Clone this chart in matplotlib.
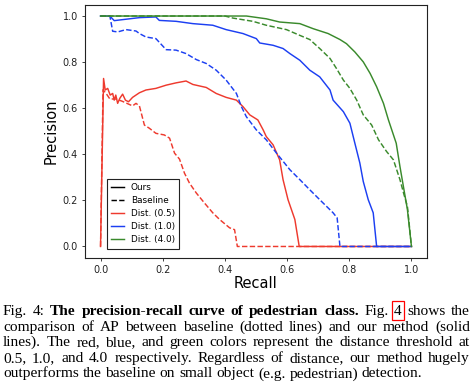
import matplotlib
matplotlib.use("Agg")
import matplotlib.pyplot as plt
from matplotlib.lines import Line2D
from matplotlib.patches import Rectangle

# ---------------- data ----------------
ours_05_r = [0.0, 0.0097, 0.015, 0.023, 0.031, 0.039, 0.044, 0.049, 0.055, 0.062, 0.071, 0.080, 0.090, 0.103,
             0.125, 0.146, 0.178, 0.211, 0.243, 0.275, 0.297, 0.340, 0.372, 0.404, 0.437, 0.458, 0.480, 0.506,
             0.523, 0.533, 0.555, 0.576, 0.587, 0.603, 0.625, 0.639, 1.0]
ours_05_p = [0.0, 0.729, 0.679, 0.686, 0.657, 0.664, 0.635, 0.657, 0.621, 0.643, 0.661, 0.635, 0.628, 0.647,
             0.667, 0.679, 0.686, 0.700, 0.710, 0.718, 0.703, 0.690, 0.664, 0.647, 0.635, 0.607, 0.571, 0.549,
             0.506, 0.477, 0.441, 0.376, 0.290, 0.203, 0.117, 0.0, 0.0]
base_05_r = [0.0, 0.008, 0.020, 0.030, 0.050, 0.070, 0.103, 0.114, 0.125, 0.141, 0.157, 0.178, 0.205, 0.222,
             0.238, 0.254, 0.270, 0.286, 0.308, 0.334, 0.361, 0.383, 0.415, 0.431, 0.440, 1.0]
base_05_p = [0.0, 0.68, 0.66, 0.64, 0.64, 0.63, 0.610, 0.621, 0.610, 0.527, 0.513, 0.491, 0.484, 0.470,
             0.405, 0.379, 0.318, 0.275, 0.232, 0.189, 0.146, 0.117, 0.081, 0.073, 0.0, 0.0]

ours_10_r = [0.0, 0.030, 0.044, 0.125, 0.178, 0.189, 0.243, 0.297, 0.361, 0.404, 0.458, 0.501, 0.512, 0.555,
             0.587, 0.609, 0.641, 0.673, 0.705, 0.738, 0.748, 0.781, 0.802, 0.818, 0.834, 0.845, 0.861, 0.877,
             0.888, 1.0]
ours_10_p = [1.0, 1.0, 0.980, 0.993, 0.996, 0.981, 0.977, 0.967, 0.960, 0.941, 0.924, 0.902, 0.883, 0.873,
             0.859, 0.837, 0.808, 0.765, 0.736, 0.679, 0.635, 0.585, 0.535, 0.448, 0.362, 0.282, 0.203, 0.146,
             0.0, 0.0]
base_10_r = [0.0, 0.030, 0.039, 0.055, 0.082, 0.114, 0.125, 0.146, 0.178, 0.211, 0.243, 0.275, 0.308, 0.340,
             0.372, 0.404, 0.437, 0.453, 0.469, 0.501, 0.533, 0.566, 0.609, 0.641, 0.673, 0.705, 0.748, 0.761,
             0.770, 1.0]
base_10_p = [1.0, 1.0, 0.934, 0.931, 0.941, 0.935, 0.924, 0.909, 0.902, 0.854, 0.852, 0.837, 0.811, 0.794,
             0.765, 0.722, 0.664, 0.607, 0.563, 0.506, 0.463, 0.405, 0.333, 0.290, 0.246, 0.203, 0.146, 0.124,
             0.0, 0.0]

ours_40_r = [0.0, 0.469, 0.533, 0.576, 0.641, 0.684, 0.732, 0.770, 0.791, 0.818, 0.845, 0.867, 0.888, 0.910,
             0.926, 0.951, 0.963, 0.974, 0.987, 1.0]
ours_40_p = [1.0, 1.0, 0.988, 0.974, 0.967, 0.945, 0.924, 0.898, 0.880, 0.844, 0.801, 0.751, 0.693, 0.621,
             0.549, 0.448, 0.347, 0.261, 0.160, 0.0]
base_40_r = [0.0, 0.400, 0.426, 0.490, 0.533, 0.598, 0.641, 0.673, 0.705, 0.738, 0.759, 0.781, 0.802, 0.824,
             0.845, 0.872, 0.894, 0.920, 0.942, 0.963, 0.976, 0.987, 1.0]
base_40_p = [1.0, 1.0, 0.991, 0.977, 0.960, 0.941, 0.916, 0.898, 0.859, 0.816, 0.772, 0.722, 0.686, 0.635,
             0.571, 0.527, 0.463, 0.412, 0.376, 0.290, 0.225, 0.174, 0.0]

x_ticks = [0.0, 0.2, 0.4, 0.6, 0.8, 1.0]
y_ticks = [0.0, 0.2, 0.4, 0.6, 0.8, 1.0]
legend_labels = ["Ours", "Baseline", "Dist. (0.5)", "Dist. (1.0)", "Dist. (4.0)"]

caption_lines = [
    [("Fig.", "normal"), ("4:", "normal"), ("The", "bold"), ("precision-recall", "bold"), ("curve", "bold"),
     ("of", "bold"), ("pedestrian", "bold"), ("class.", "bold"), ("Fig.", "normal"), ("4", "box"),
     ("shows", "normal"), ("the", "normal")],
    [(w, "normal") for w in "comparison of AP between baseline (dotted lines) and our method (solid".split()],
    [(w, "normal") for w in "lines). The red, blue, and green colors represent the distance threshold at".split()],
    [(w, "normal") for w in "0.5, 1.0, and 4.0 respectively. Regardless of distance, our method hugely".split()],
    [(w, "normal") for w in "outperforms the baseline on small object (e.g. pedestrian) detection.".split()],
]

# ---------------- figure ----------------
W, H = 477, 392
fig = plt.figure(figsize=(W / 100, H / 100), dpi=100)
ax = fig.add_axes([85 / W, 1 - 258 / H, 342 / W, 253.5 / H])

RED, BLUE, GREEN = "#ee3a2e", "#1c3ff2", "#3a8a2c"
lw = 1.05
ax.plot(ours_05_r, ours_05_p, color=RED, lw=lw)
ax.plot(base_05_r, base_05_p, color=RED, lw=lw, ls="--")
ax.plot(ours_10_r, ours_10_p, color=BLUE, lw=lw)
ax.plot(base_10_r, base_10_p, color=BLUE, lw=lw, ls="--")
ax.plot(ours_40_r, ours_40_p, color=GREEN, lw=lw)
ax.plot(base_40_r, base_40_p, color=GREEN, lw=lw, ls="--")

ax.set_xlim(-0.05, 1.05)
ax.set_ylim(-0.05, 1.05)
ax.set_xticks(x_ticks)
ax.set_yticks(y_ticks)
ax.set_xticklabels([f"{v:.1f}" for v in x_ticks])
ax.set_yticklabels([f"{v:.1f}" for v in y_ticks])
ax.tick_params(labelsize=7, length=2.5, width=0.6, pad=2.5, colors="#222222")
for s in ax.spines.values():
    s.set_linewidth(0.8)
    s.set_color("#222222")
ax.set_xlabel("Recall", fontsize=10.5, labelpad=1)
ax.set_ylabel("Precision", fontsize=10.5, labelpad=3)

handles = [Line2D([], [], color="black", lw=lw), Line2D([], [], color="black", lw=lw, ls="--"),
           Line2D([], [], color=RED, lw=lw), Line2D([], [], color=BLUE, lw=lw), Line2D([], [], color=GREEN, lw=lw)]
leg = ax.legend(handles, legend_labels, loc="lower left", bbox_to_anchor=(0.064, 0.036), borderaxespad=0,
                fontsize=6.4, handlelength=1.4, handletextpad=0.8, fancybox=False, framealpha=1,
                edgecolor="#222222", labelspacing=0.45, borderpad=0.5)
leg.get_frame().set_linewidth(0.8)

# ---------------- caption (justified serif text) ----------------
renderer = fig.canvas.get_renderer()
FAM = "Liberation Serif"


def measure(s, fs, weight):
    t = fig.text(0, 0, s, fontsize=fs, family=FAM, weight=weight)
    bb = t.get_window_extent(renderer)
    t.remove()
    return bb.width


def wt(kind):
    return "bold" if kind == "bold" else "normal"


left_px, right_px = 3.0, 470.0
last_width_target = 415.0
fs = 10.0
nat = measure(" ".join(w for w, _ in caption_lines[-1]), fs, "normal")
fs = fs * last_width_target / nat
space_w = measure("a b", fs, "normal") - measure("ab", fs, "normal")

baselines = [315.0, 330.6, 346.2, 361.8, 377.4]
for i, line in enumerate(caption_lines):
    widths = [measure(w, fs, wt(k)) for w, k in line]
    total = sum(widths)
    if i < len(caption_lines) - 1:
        gap = (right_px - left_px - total) / (len(line) - 1)
    else:
        gap = space_w
    x = left_px
    yb = baselines[i]
    for (w, k), wd in zip(line, widths):
        fig.text(x / W, 1 - yb / H, w, fontsize=fs, family=FAM, weight=wt(k), va="baseline", ha="left",
                 color="black")
        if k == "box":
            fig.patches.append(Rectangle(((x - 2) / W, 1 - (yb + 4.5) / H), (wd + 4) / W, 18.5 / H,
                                         transform=fig.transFigure, fill=False, edgecolor="red", lw=0.9))
        x += wd + gap

fig.savefig("out.png", dpi=100)
